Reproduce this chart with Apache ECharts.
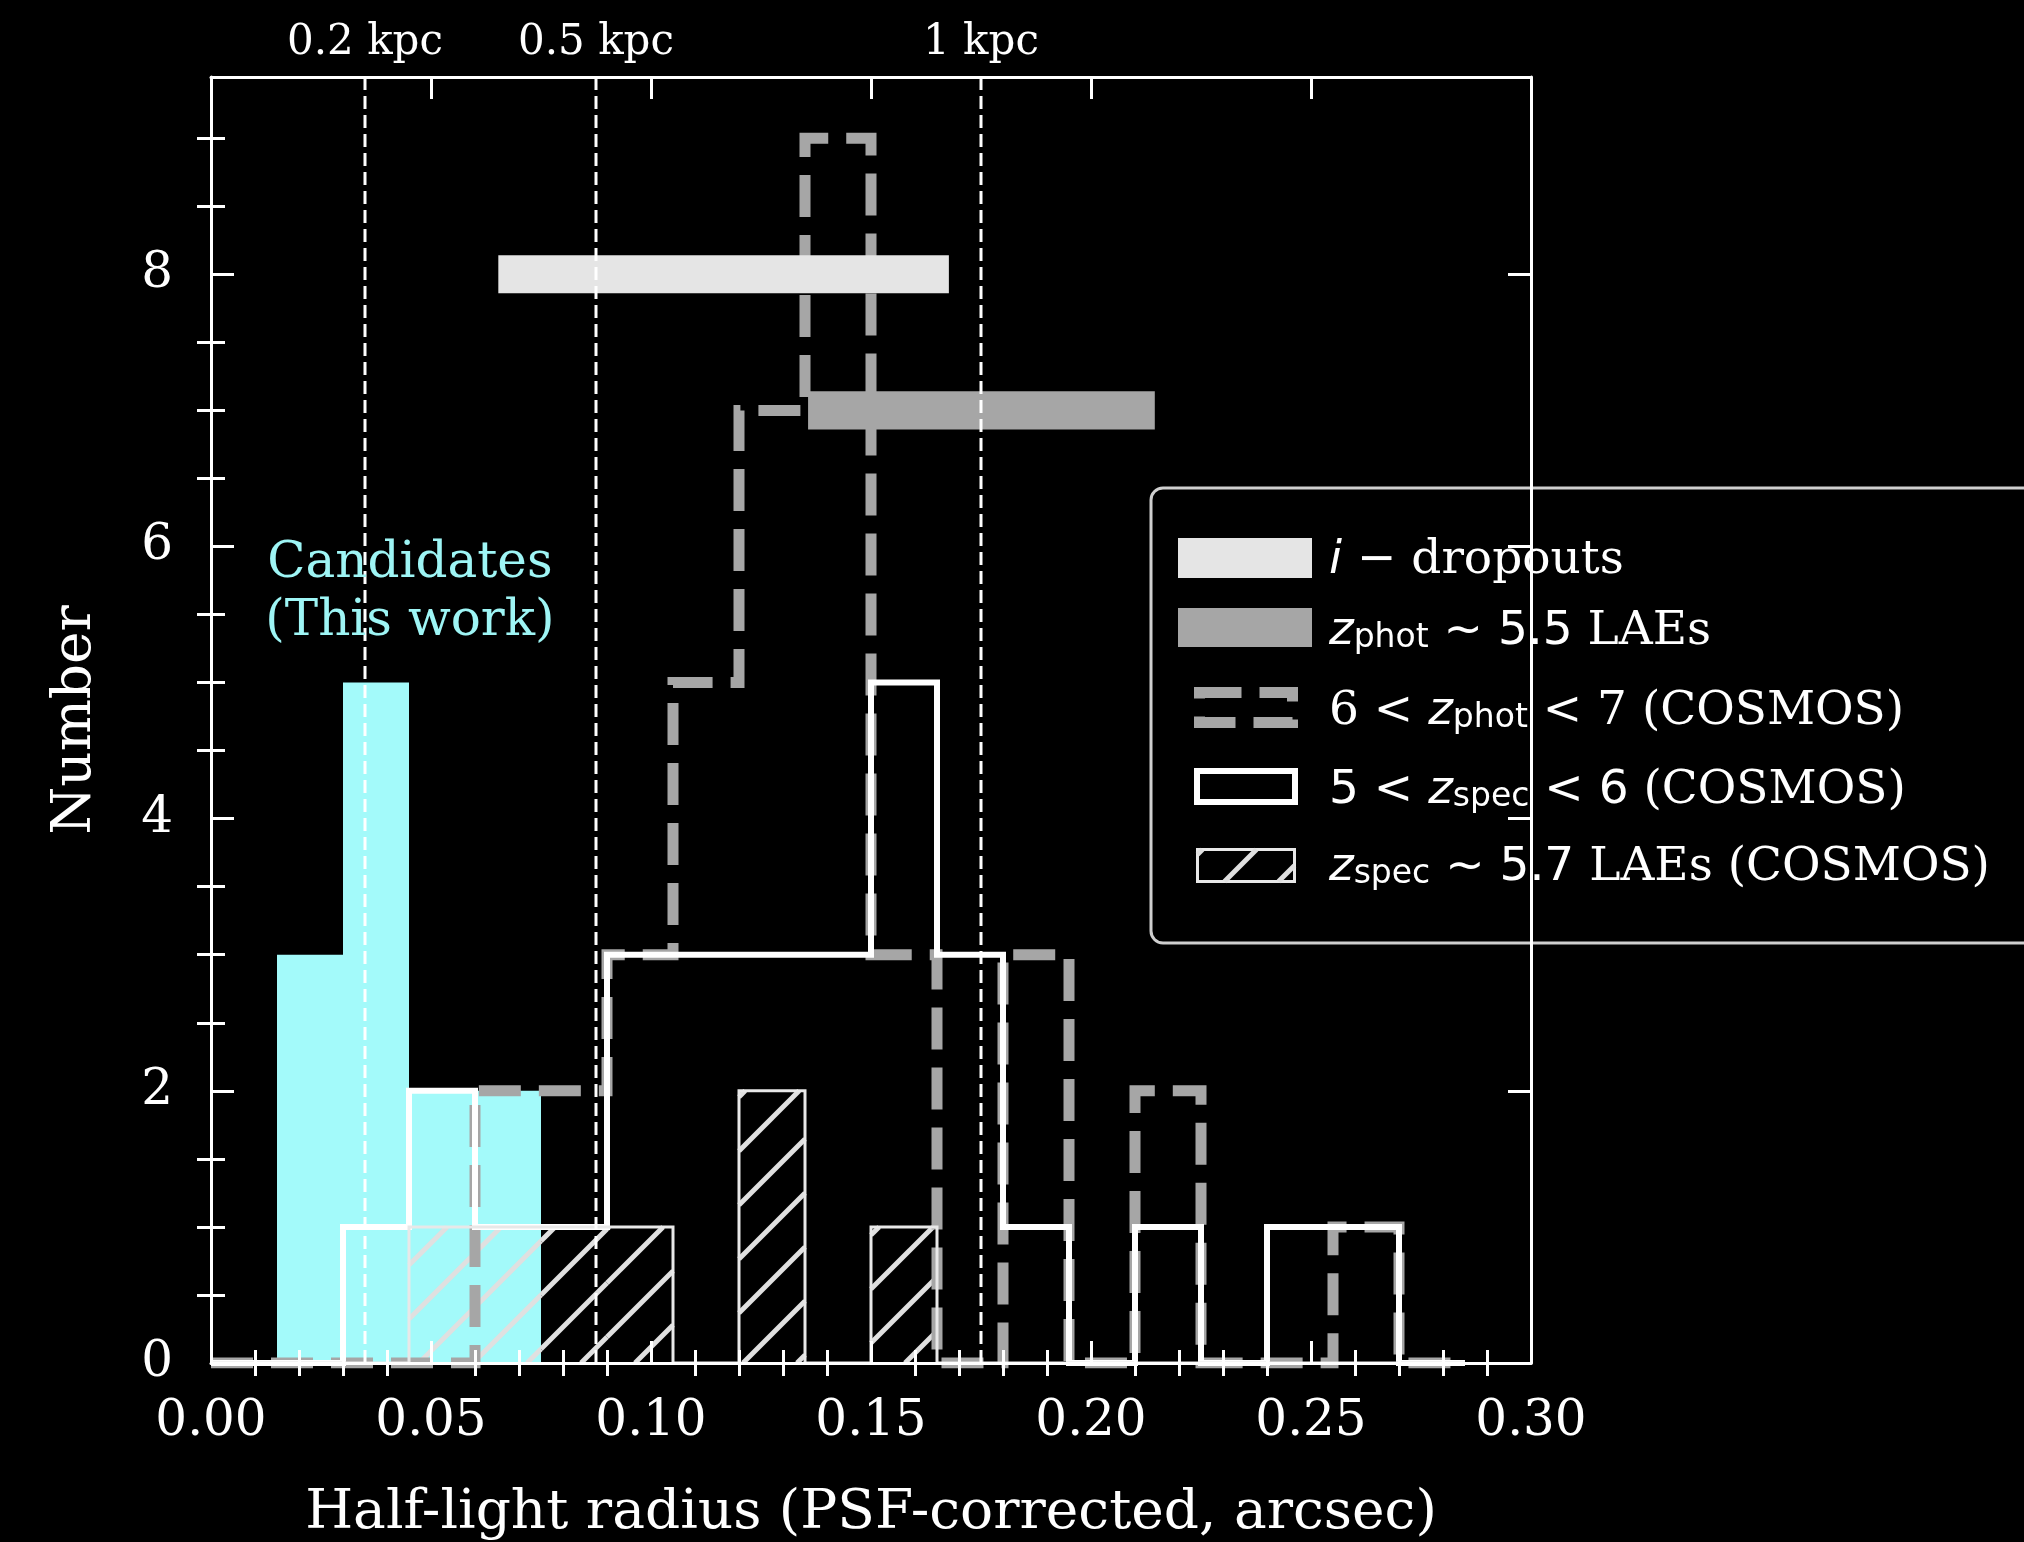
<!DOCTYPE html>
<html>
<head>
<meta charset="utf-8">
<script src="https://cdn.jsdelivr.net/npm/echarts@6/dist/echarts.min.js"></script>
<style>
  html, body { margin: 0; padding: 0; background: #000; }
  #chart { width: 2024px; height: 1542px; }
</style>
</head>
<body>
<div id="chart"></div>
<script>
// Histogram bin edges (arcsec), 0.015 wide
const binEdges = [0.000, 0.015, 0.030, 0.045, 0.060, 0.075, 0.090, 0.105, 0.120, 0.135,
                  0.150, 0.165, 0.180, 0.195, 0.210, 0.225, 0.240, 0.255, 0.270, 0.285];

// Counts per bin
const candidateCounts = [0, 3, 5, 2, 2, 0, 0, 0, 0, 0, 0, 0, 0, 0, 0, 0, 0, 0, 0];
const zspecCounts     = [0, 0, 1, 2, 1, 1, 3, 3, 3, 3, 5, 3, 1, 0, 1, 0, 1, 1, 0];
const zphotCounts     = [0, 0, 0, 0, 2, 2, 3, 5, 7, 9, 3, 0, 3, 0, 2, 0, 0, 1, 0];
const laeCounts       = [0, 0, 0, 1, 1, 1, 1, 0, 2, 0, 1, 0, 0, 0, 0, 0, 0, 0, 0];

// Size ranges of comparison samples: [from, to, level]
const iDropoutRange = [0.0653, 0.1677, 8];
const zphotLaeRange = [0.1357, 0.2145, 7];

// Physical scale markers
const kpcPositions = [0.035, 0.0875, 0.175];
const kpcLabels = ['0.2 kpc', '0.5 kpc', '1 kpc'];

// Axis ticks
const xMajorTicks = [0, 0.05, 0.10, 0.15, 0.20, 0.25, 0.30];
const xMinorTicks = [0.01, 0.02, 0.03, 0.04, 0.06, 0.07, 0.08, 0.09, 0.11, 0.12, 0.13, 0.14,
                     0.16, 0.17, 0.18, 0.19, 0.21, 0.22, 0.23, 0.24, 0.26, 0.27, 0.28, 0.29];
const yMajorTicks = [0, 2, 4, 6, 8];
const yMinorTicks = [0.5, 1, 1.5, 2.5, 3, 3.5, 4.5, 5, 5.5, 6.5, 7, 7.5, 8.5, 9];

const X_MAX = 0.30, Y_MAX = 9.45;
const SERIF = 'DejaVu Serif';
const HATCH = 54;

function stepOutline(edges, counts) {
  const pts = [[edges[0], 0]];
  for (let i = 0; i < counts.length; i++) {
    pts.push([edges[i], counts[i]]);
    pts.push([edges[i + 1], counts[i]]);
  }
  pts.push([edges[edges.length - 1], 0]);
  return pts;
}

function binBoxes(edges, counts) {
  const out = [];
  counts.forEach((c, i) => { if (c > 0) out.push([edges[i], edges[i + 1], c]); });
  return out;
}

// diagonal hatch segments inside a pixel rectangle
function hatchLines(L, T, R, B, stroke, width) {
  const lines = [];
  for (let c = Math.floor((L + T) / HATCH) * HATCH; c <= R + B; c += HATCH) {
    const xs = Math.max(L, c - B), xe = Math.min(R, c - T);
    if (xe > xs) {
      lines.push({ type: 'line', shape: { x1: xs, y1: c - xs, x2: xe, y2: c - xe },
                   style: { stroke: stroke, lineWidth: width } });
    }
  }
  return lines;
}

const axisColor = '#ffffff';
function xAxisDef(position, ticks, len, opts) {
  return Object.assign({
    type: 'value', position: position, min: 0, max: X_MAX, z: 6,
    axisLine: { show: false },
    axisTick: { show: true, inside: true, length: len, customValues: ticks,
                lineStyle: { color: axisColor, width: 3 } },
    axisLabel: { show: false },
    splitLine: { show: false }
  }, opts || {});
}
function yAxisDef(position, ticks, len, opts) {
  return Object.assign({
    type: 'value', position: position, min: 0, max: Y_MAX, z: 6,
    axisLine: { show: false },
    axisTick: { show: true, inside: true, length: len, customValues: ticks,
                lineStyle: { color: axisColor, width: 3 } },
    axisLabel: { show: false },
    splitLine: { show: false }
  }, opts || {});
}

const chart = echarts.init(document.getElementById('chart'), null, { width: 2024, height: 1542 });

const option = {
  backgroundColor: '#000000',
  animation: false,
  grid: { left: 211, top: 77, width: 1320, height: 1286, containLabel: false, outerBoundsMode: 'none' },
  xAxis: [
    xAxisDef('bottom', xMajorTicks, 22, {
      axisLine: { show: true, onZero: false, lineStyle: { color: axisColor, width: 3 } },
      axisLabel: { show: true, customValues: xMajorTicks, margin: 34, color: '#fff',
                   fontFamily: SERIF, fontSize: 50, formatter: v => v.toFixed(2) },
      name: 'Half-light radius (PSF-corrected, arcsec)', nameLocation: 'middle', nameGap: 123,
      nameTextStyle: { color: '#fff', fontFamily: SERIF, fontSize: 55 }
    }),
    xAxisDef('bottom', xMinorTicks, 13),
    xAxisDef('top', xMajorTicks, 22, {
      axisLine: { show: true, onZero: false, lineStyle: { color: axisColor, width: 3 } }
    }),
    xAxisDef('top', xMinorTicks, 13),
    xAxisDef('top', kpcPositions, 0, {
      axisTick: { show: false },
      axisLabel: { show: true, customValues: kpcPositions, margin: 13, color: '#fff',
                   fontFamily: SERIF, fontSize: 42,
                   formatter: v => {
                     let best = 0;
                     kpcPositions.forEach((p, i) => { if (Math.abs(p - v) < Math.abs(kpcPositions[best] - v)) best = i; });
                     return kpcLabels[best];
                   } }
    })
  ],
  yAxis: [
    yAxisDef('left', yMajorTicks, 23, {
      axisLine: { show: true, onZero: false, lineStyle: { color: axisColor, width: 3 } },
      axisLabel: { show: true, customValues: yMajorTicks, margin: 38, color: '#fff',
                   fontFamily: SERIF, fontSize: 50 },
      name: 'Number', nameLocation: 'middle', nameGap: 108,
      nameTextStyle: { color: '#fff', fontFamily: SERIF, fontSize: 55 }
    }),
    yAxisDef('left', yMinorTicks, 14),
    yAxisDef('right', yMajorTicks, 23, {
      axisLine: { show: true, onZero: false, lineStyle: { color: axisColor, width: 3 } }
    }),
    yAxisDef('right', yMinorTicks, 14)
  ],
  series: [
    {
      name: 'Candidates', type: 'custom', z: 1, silent: true,
      data: binBoxes(binEdges, candidateCounts),
      encode: { x: [0, 1], y: 2 },
      renderItem: (params, api) => {
        const p0 = api.coord([api.value(0), api.value(2)]);
        const p1 = api.coord([api.value(1), 0]);
        return { type: 'rect', shape: { x: p0[0], y: p0[1], width: p1[0] - p0[0], height: p1[1] - p0[1] },
                 style: { fill: '#a3fafa' } };
      }
    },
    {
      name: 'LAE hatch', type: 'custom', z: 2, silent: true,
      data: binBoxes(binEdges, laeCounts),
      encode: { x: [0, 1], y: 2 },
      renderItem: (params, api) => {
        const p0 = api.coord([api.value(0), api.value(2)]);
        const p1 = api.coord([api.value(1), 0]);
        return { type: 'group', children: hatchLines(p0[0], p0[1], p1[0], p1[1], '#e0e0e0', 5) };
      }
    },
    {
      name: '6 < zphot < 7', type: 'line', z: 3, silent: true,
      data: stepOutline(binEdges, zphotCounts),
      showSymbol: false, symbol: 'none',
      lineStyle: { color: '#a6a6a6', width: 11, type: [42, 18], cap: 'butt', join: 'miter' }
    },
    {
      name: '5 < zspec < 6', type: 'line', z: 3, silent: true,
      data: stepOutline(binEdges, zspecCounts),
      showSymbol: false, symbol: 'none',
      lineStyle: { color: '#ffffff', width: 6, cap: 'butt', join: 'miter' }
    },
    {
      name: 'zspec ~ 5.7 LAEs', type: 'line', z: 3, silent: true,
      data: stepOutline(binEdges, laeCounts),
      showSymbol: false, symbol: 'none',
      lineStyle: { color: '#e8e8e8', width: 3, cap: 'butt', join: 'miter' }
    },
    {
      name: 'Size ranges', type: 'custom', z: 4, silent: true,
      data: [iDropoutRange.concat(['#e5e5e5']), zphotLaeRange.concat(['#a6a6a6'])],
      encode: { x: [0, 1], y: 2 },
      renderItem: (params, api) => {
        const level = api.value(2);
        const p0 = api.coord([api.value(0), level + 0.14]);
        const p1 = api.coord([api.value(1), level - 0.14]);
        return { type: 'rect', shape: { x: p0[0], y: p0[1], width: p1[0] - p0[0], height: p1[1] - p0[1] },
                 style: { fill: api.value(3) } };
      }
    },
    {
      name: 'kpc scale', type: 'custom', z: 5, silent: true,
      data: kpcPositions.map(v => [v]),
      encode: { x: 0 },
      renderItem: (params, api) => {
        const top = api.coord([api.value(0), Y_MAX]);
        const bottom = api.coord([api.value(0), 0]);
        return { type: 'line', shape: { x1: top[0], y1: top[1], x2: bottom[0], y2: bottom[1] },
                 style: { stroke: '#ffffff', lineWidth: 3, lineDash: [13, 6] } };
      }
    }
  ]
};
chart.setOption(option);

// annotation placed in data coordinates
const annot = chart.convertToPixel({ gridIndex: 0 }, [0.0452, 5.66]);

const richBase = { fill: '#fff', color: '#fff', lineHeight: 58, verticalAlign: 'bottom' };
const rich = {
  s:   Object.assign({ fontFamily: SERIF, fontSize: 47 }, richBase),
  m:   Object.assign({ fontFamily: 'DejaVu Sans', fontSize: 47 }, richBase),
  mi:  Object.assign({ fontFamily: 'DejaVu Sans', fontStyle: 'italic', fontSize: 47 }, richBase),
  sub: { fill: '#fff', color: '#fff', fontFamily: 'DejaVu Sans', fontSize: 33, lineHeight: 28, verticalAlign: 'bottom' }
};
const legendTexts = [
  '{mi|i}{m| − }{s|dropouts}',
  '{mi|z}{sub|phot}{m| ~ 5.5 }{s|LAEs}',
  '{s|6 < }{mi|z}{sub|phot}{s| < 7 (COSMOS)}',
  '{m|5 < }{mi|z}{sub|spec}{m| < 6 }{s|(COSMOS)}',
  '{mi|z}{sub|spec}{m| ~ 5.7 }{s|LAEs (COSMOS)}'
];
const legendRowY = [555, 626, 706, 785, 862];

const legendChildren = [
  { type: 'rect', shape: { x: 1151, y: 488, width: 1000, height: 455, r: 12 },
    style: { fill: '#000', stroke: '#cfcfcf', lineWidth: 3 } },
  { type: 'rect', shape: { x: 1178, y: 538, width: 134, height: 40 }, style: { fill: '#e5e5e5' } },
  { type: 'rect', shape: { x: 1178, y: 608, width: 134, height: 39 }, style: { fill: '#a6a6a6' } },
  { type: 'rect', shape: { x: 1199.5, y: 692.5, width: 93, height: 30 },
    style: { fill: 'none', stroke: '#a6a6a6', lineWidth: 11, lineDash: [42, 18] } },
  { type: 'rect', shape: { x: 1197, y: 771, width: 98, height: 31 },
    style: { fill: 'none', stroke: '#ffffff', lineWidth: 6 } },
  { type: 'rect', shape: { x: 1197.5, y: 849.5, width: 97, height: 32 },
    style: { fill: 'none', stroke: '#e8e8e8', lineWidth: 3 } }
].concat(hatchLines(1197.5, 849.5, 1294.5, 881.5, '#e0e0e0', 5));

legendTexts.forEach((t, i) => {
  legendChildren.push({
    type: 'text', x: 1329, y: legendRowY[i],
    style: { text: t, rich: rich, align: 'left', verticalAlign: 'middle',
             textAlign: 'left', textVerticalAlign: 'middle', fill: '#fff' }
  });
});

chart.setOption({
  graphic: [
    {
      type: 'text', z: 20, x: annot[0], y: annot[1],
      style: { text: 'Candidates\n(This work)', fill: '#9ef5f5', font: '50px "DejaVu Serif"',
               fontFamily: SERIF, fontSize: 50, lineHeight: 58,
               align: 'center', verticalAlign: 'middle', textAlign: 'center', textVerticalAlign: 'middle' }
    },
    { type: 'group', z: 100, children: legendChildren }
  ]
});
</script>
</body>
</html>
